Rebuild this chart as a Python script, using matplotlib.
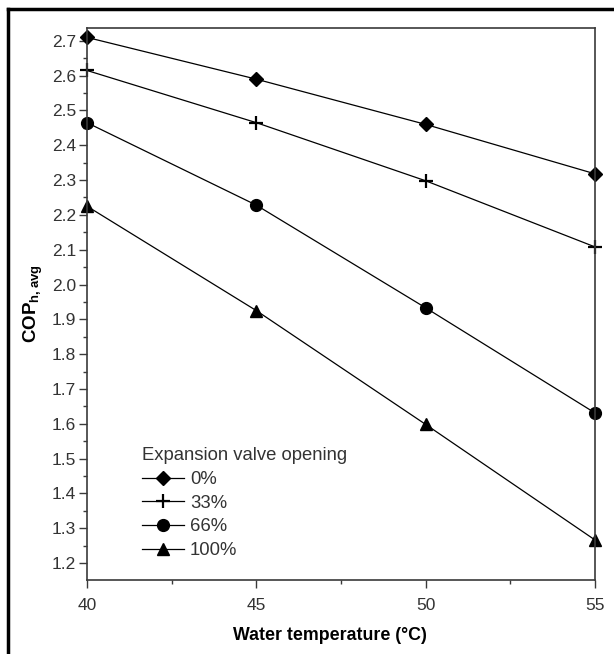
import matplotlib.pyplot as plt
from matplotlib.ticker import MultipleLocator
from matplotlib.lines import Line2D

plt.rcParams['font.family'] = ['Liberation Sans', 'DejaVu Sans']

water_temp = [40, 45, 50, 55]
cop_0 = [2.71, 2.59, 2.46, 2.318]
cop_33 = [2.615, 2.465, 2.298, 2.108]
cop_66 = [2.465, 2.228, 1.933, 1.631]
cop_100 = [2.225, 1.925, 1.598, 1.266]
labels = ['0%', '33%', '66%', '100%']

text_col = '#333333'
spine_col = '#3a3a3a'

fig = plt.figure(figsize=(6.14, 6.54), dpi=100)
ax = fig.add_axes([87 / 614, 1 - 580 / 654, 508 / 614, 552 / 654])

styles = [
    dict(marker='D', ms=7.5),
    dict(marker='+', ms=10, mew=1.6),
    dict(marker='o', ms=8.5),
    dict(marker='^', ms=9),
]
for series, lab, st in zip([cop_0, cop_33, cop_66, cop_100], labels, styles):
    ax.plot(water_temp, series, color='black', lw=0.9, mfc='black', mec='black',
            label=lab, clip_on=False, **st)

ax.set_xlim(40, 55)
ax.set_ylim(1.151, 2.737)
ax.xaxis.set_major_locator(MultipleLocator(5))
ax.xaxis.set_minor_locator(MultipleLocator(2.5))
ax.yaxis.set_major_locator(MultipleLocator(0.1))
ax.yaxis.set_minor_locator(MultipleLocator(0.05))
ax.tick_params(which='both', direction='out', colors=spine_col, labelcolor=text_col,
               labelsize=12.5, top=False, right=False)
ax.tick_params(which='major', length=6, width=1)
ax.tick_params(which='minor', length=3, width=1)
ax.tick_params(axis='x', pad=7)
ax.tick_params(axis='y', pad=2)
for s in ax.spines.values():
    s.set_color(spine_col)
    s.set_linewidth(1.2)

ax.set_xlabel('Water temperature (°C)', fontsize=12.8, fontweight='bold', color='black', labelpad=9)
ax.xaxis.set_label_coords(0.479, -0.085)
ax.set_ylabel(r'COP$_{\mathregular{h,avg}}$', fontsize=13.5, fontweight='bold', color='black', labelpad=5)

leg = ax.legend(loc='lower left', bbox_to_anchor=(0.108, 0.038), frameon=False,
                title='Expansion valve opening', fontsize=13.3, title_fontsize=13.3,
                handlelength=2.3, handletextpad=0.3, labelspacing=0.36, borderpad=0,
                borderaxespad=0, alignment='left')
for t in leg.get_texts():
    t.set_color(text_col)
leg.get_title().set_color(text_col)

# page border (top and left edges)
fig.add_artist(Line2D([8 / 614, 1], [1 - 9 / 654, 1 - 9 / 654], color='black', lw=2.5,
                      transform=fig.transFigure))
fig.add_artist(Line2D([8 / 614, 8 / 614], [0, 1 - 9 / 654], color='black', lw=2.5,
                      transform=fig.transFigure))

fig.savefig('out.png', dpi=100)
